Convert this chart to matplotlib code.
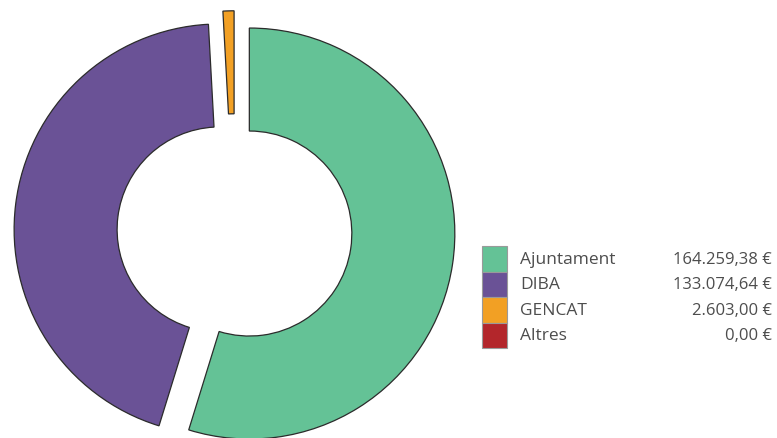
import numpy as np
import matplotlib.pyplot as plt
from matplotlib.patches import Rectangle

# Data
categories = ["Ajuntament", "DIBA", "GENCAT", "Altres"]
values = [164259.38, 133074.64, 2603.00, 0.00]
value_labels = ["164.259,38 €", "133.074,64 €", "2.603,00 €", "0,00 €"]
colors = ["#64C296", "#6A5296", "#F2A024", "#B3262B"]

W, H = 777, 439
fig = plt.figure(figsize=(W / 100, H / 100), dpi=100)
fig.patch.set_facecolor("white")

# axes in pixel units (y up)
ax = fig.add_axes([0, 0, 1, 1])

# Pie setup - zero values are left out of the ring, kept in the legend
R = 205.5
hole = 102.5
cx, cy = 234.5, H - 232.3
keep = [i for i, v in enumerate(values) if v > 0]
# explode is given in data units here (pixels)
ax.pie([values[i] for i in keep],
       colors=[colors[i] for i in keep],
       explode=[15] * len(keep),
       startangle=90, counterclock=False,
       radius=R, center=(cx, cy), frame=True,
       wedgeprops=dict(width=R - hole, edgecolor="#2b2b2b", linewidth=0.9))
ax.set_xlim(0, W)
ax.set_ylim(0, H)
ax.set_aspect("equal")
ax.axis("off")

# Legend as a little table
x_box, y_top, box_w, box_h = 482, 247, 25, 25.5
for i, cat in enumerate(categories):
    y0 = y_top + i * box_h
    ax.add_patch(Rectangle((x_box, H - y0 - box_h), box_w, box_h,
                           facecolor=colors[i], edgecolor="#9a9a9a", linewidth=0.8))
    yc = H - y0 - box_h / 2
    ax.text(520, yc, cat, fontsize=12.5, family="Open Sans", color="#4d4d4d",
            va="center", ha="left")
    ax.text(772, yc, value_labels[i], fontsize=12, family="Open Sans", color="#4d4d4d",
            va="center", ha="right")

fig.savefig("out.png", dpi=100)
